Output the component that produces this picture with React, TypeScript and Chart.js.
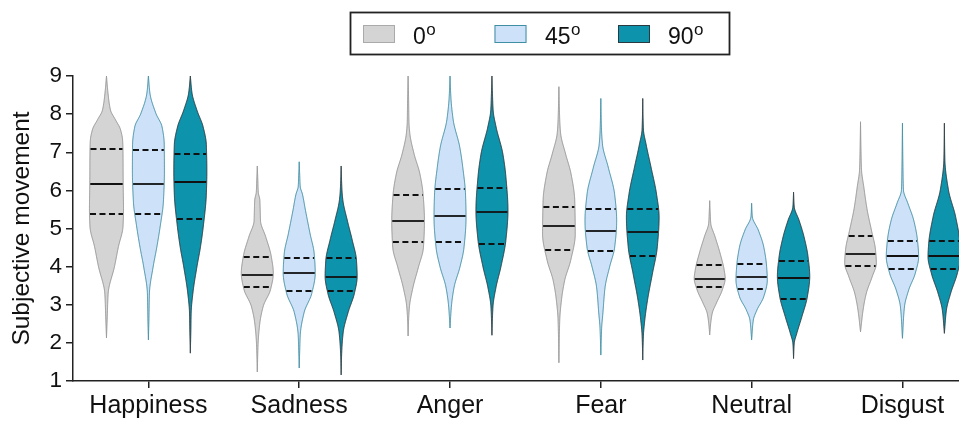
import React, { useEffect, useRef } from "react";
import { Chart, registerables } from "chart.js";

Chart.register(...registerables);

// ---------- DATA ----------
const categories = ["Happiness", "Sadness", "Anger", "Fear", "Neutral", "Disgust"];
const seriesLabels = ["0", "45", "90"];
const yTickValues = [1, 2, 3, 4, 5, 6, 7, 8, 9];

// [q1, median, q3] per category
const quartiles0 = [
  [5.37, 6.175, 7.09], [3.47, 3.78, 4.26], [4.65, 5.2, 5.88],
  [4.44, 5.07, 5.57], [3.46, 3.68, 4.03], [4.02, 4.33, 4.8],
];
const quartiles45 = [
  [5.39, 6.175, 7.05], [3.37, 3.84, 4.23], [4.65, 5.32, 6.03],
  [4.42, 4.94, 5.5], [3.41, 3.73, 4.08], [3.95, 4.28, 4.68],
];
const quartiles90 = [
  [5.24, 6.21, 6.95], [3.37, 3.73, 4.23], [4.59, 5.44, 6.05],
  [4.28, 4.9, 5.51], [3.15, 3.69, 4.15], [3.93, 4.28, 4.66],
];

// density profiles: [value, relative density] from min to max
const density0 = [
  [[2.13, 0], [2.6, 0.04], [3.3, 0.1], [4.0, 0.47], [4.52, 0.7], [5.05, 0.97], [5.5, 1.0], [6.2, 0.98], [7.0, 0.97], [7.3, 0.95], [7.6, 0.82], [7.85, 0.53], [8.1, 0.24], [8.55, 0.09], [9.0, 0]],
  [[1.24, 0], [2.0, 0.05], [2.52, 0.15], [2.96, 0.35], [3.4, 0.78], [3.83, 0.94], [4.27, 0.82], [4.79, 0.49], [5.2, 0.19], [5.5, 0.17], [5.75, 0.15], [5.95, 0.06], [6.3, 0.03], [6.64, 0]],
  [[2.18, 0], [2.6, 0.03], [2.95, 0.08], [3.46, 0.29], [3.99, 0.61], [4.5, 0.9], [5.2, 0.96], [5.9, 0.88], [6.44, 0.69], [6.96, 0.35], [7.5, 0.1], [7.8, 0.05], [8.4, 0.03], [9.0, 0]],
  [[1.48, 0], [2.6, 0.05], [3.12, 0.15], [3.64, 0.34], [4.16, 0.69], [4.86, 0.96], [5.73, 0.93], [6.44, 0.71], [6.96, 0.39], [7.5, 0.1], [7.84, 0.05], [8.72, 0]],
  [[2.21, 0], [2.52, 0.06], [2.78, 0.15], [3.04, 0.39], [3.39, 0.74], [3.69, 0.91], [3.91, 0.85], [4.35, 0.61], [4.79, 0.31], [5.14, 0.06], [5.4, 0.03], [5.73, 0]],
  [[2.29, 0], [2.86, 0.15], [3.3, 0.34], [3.74, 0.69], [4.09, 0.93], [4.44, 0.88], [4.96, 0.64], [5.49, 0.39], [6.1, 0.19], [6.53, 0.06], [7.0, 0.03], [7.8, 0]],
];
const density45 = [
  [[2.08, 0], [2.6, 0.03], [3.3, 0.06], [4.0, 0.28], [4.5, 0.49], [5.05, 0.69], [5.7, 0.88], [6.5, 0.94], [7.2, 0.93], [7.67, 0.8], [8.02, 0.44], [8.55, 0.09], [9.0, 0]],
  [[1.34, 0], [1.8, 0.03], [2.2, 0.06], [2.8, 0.29], [3.3, 0.74], [3.83, 0.94], [4.34, 0.88], [4.86, 0.64], [5.47, 0.37], [5.9, 0.19], [6.1, 0.06], [6.4, 0.03], [6.75, 0]],
  [[2.39, 0], [2.95, 0.08], [3.46, 0.24], [4.0, 0.59], [4.5, 0.82], [5.3, 0.94], [5.9, 0.91], [6.6, 0.75], [7.14, 0.57], [7.84, 0.19], [8.45, 0.05], [9.0, 0]],
  [[1.68, 0], [2.4, 0.05], [2.77, 0.12], [3.46, 0.25], [4.0, 0.52], [4.5, 0.81], [5.2, 0.93], [5.9, 0.81], [6.6, 0.44], [7.2, 0.1], [7.6, 0.04], [8.41, 0]],
  [[2.08, 0], [2.6, 0.1], [2.86, 0.31], [3.21, 0.71], [3.65, 0.92], [4.0, 0.88], [4.52, 0.71], [4.96, 0.39], [5.31, 0.04], [5.66, 0]],
  [[2.12, 0], [2.95, 0.12], [3.39, 0.37], [3.82, 0.75], [4.26, 0.95], [4.7, 0.88], [5.22, 0.66], [5.66, 0.32], [6.01, 0.06], [6.6, 0.03], [7.76, 0]],
];
const density90 = [
  [[1.73, 0], [2.3, 0.03], [2.8, 0.05], [3.3, 0.15], [4.0, 0.39], [4.5, 0.59], [5.05, 0.76], [5.9, 0.94], [6.5, 0.97], [7.2, 0.94], [7.67, 0.75], [8.1, 0.39], [8.55, 0.1], [9.0, 0]],
  [[1.16, 0], [1.7, 0.03], [2.27, 0.12], [2.8, 0.41], [3.3, 0.78], [3.74, 0.94], [4.17, 0.9], [4.7, 0.65], [5.2, 0.37], [5.75, 0.1], [6.0, 0.05], [6.64, 0]],
  [[2.2, 0], [2.95, 0.06], [3.46, 0.24], [4.0, 0.53], [4.7, 0.82], [5.47, 0.94], [6.35, 0.82], [6.96, 0.64], [7.67, 0.24], [8.1, 0.07], [8.55, 0.03], [9.0, 0]],
  [[1.55, 0], [2.2, 0.04], [2.6, 0.12], [3.12, 0.28], [3.82, 0.57], [4.5, 0.85], [5.3, 0.96], [5.9, 0.81], [6.6, 0.49], [7.2, 0.2], [7.6, 0.04], [8.41, 0]],
  [[1.59, 0], [1.99, 0.04], [2.25, 0.19], [2.69, 0.49], [3.21, 0.81], [3.74, 0.95], [4.26, 0.85], [4.79, 0.61], [5.22, 0.32], [5.57, 0.04], [5.95, 0]],
  [[2.25, 0], [2.86, 0.12], [3.3, 0.37], [3.82, 0.76], [4.26, 0.96], [4.61, 0.92], [5.31, 0.66], [6.01, 0.24], [6.8, 0.03], [7.76, 0]],
];

// ---------- STYLE ----------
const FONT = "'Liberation Sans', Arial, Helvetica, sans-serif";
const SERIES_OFFSET = [-0.278, 0, 0.278];
const HALF_WIDTH = 0.113; // x units for density 1
const FILLS = ["#d4d4d4", "#cde1f8", "#0e93ad"];
const STROKES = ["#959595", "#3f8ea3", "#2a3a40"];
const AXIS_COLOR = "#222";

const quartiles = [quartiles0, quartiles45, quartiles90];
const densities = [density0, density45, density90];

function monotone(knots: number[][]) {
  const xs = knots.map((k) => k[0]);
  const ys = knots.map((k) => k[1]);
  const n = xs.length;
  const d: number[] = [];
  for (let i = 0; i < n - 1; i++) d.push((ys[i + 1] - ys[i]) / (xs[i + 1] - xs[i]));
  const m: number[] = new Array(n).fill(0);
  m[0] = d[0];
  m[n - 1] = d[n - 2];
  for (let i = 1; i < n - 1; i++) {
    if (d[i - 1] * d[i] <= 0) m[i] = 0;
    else {
      const w1 = 2 * (xs[i + 1] - xs[i]) + (xs[i] - xs[i - 1]);
      const w2 = (xs[i + 1] - xs[i]) + 2 * (xs[i] - xs[i - 1]);
      m[i] = (w1 + w2) / (w1 / d[i - 1] + w2 / d[i]);
    }
  }
  return (x: number) => {
    if (x <= xs[0]) return ys[0];
    if (x >= xs[n - 1]) return ys[n - 1];
    let i = 0;
    while (i < n - 2 && x > xs[i + 1]) i++;
    const h = xs[i + 1] - xs[i];
    const t = (x - xs[i]) / h;
    const t2 = t * t, t3 = t2 * t;
    const v =
      (2 * t3 - 3 * t2 + 1) * ys[i] +
      (t3 - 2 * t2 + t) * h * m[i] +
      (-2 * t3 + 3 * t2) * ys[i + 1] +
      (t3 - t2) * h * m[i + 1];
    return Math.max(0, v);
  };
}

const violinPlugin = {
  id: "violins",
  afterDatasetsDraw(chart: any) {
    const ctx = chart.ctx as CanvasRenderingContext2D;
    const xs = chart.scales.x;
    const ys = chart.scales.y;
    ctx.save();
    for (let s = 0; s < 3; s++) {
      for (let c = 0; c < categories.length; c++) {
        const knots = densities[s][c];
        const f = monotone(knots);
        const center = c + SERIES_OFFSET[s];
        const vmin = knots[0][0];
        const vmax = knots[knots.length - 1][0];
        const steps = Math.ceil((vmax - vmin) / 0.02);
        const right: [number, number][] = [];
        const left: [number, number][] = [];
        for (let i = 0; i <= steps; i++) {
          const v = vmin + ((vmax - vmin) * i) / steps;
          const w = f(v) * HALF_WIDTH;
          const py = ys.getPixelForValue(v);
          right.push([xs.getPixelForValue(center + w), py]);
          left.push([xs.getPixelForValue(center - w), py]);
        }
        ctx.beginPath();
        right.forEach((p, i) => (i === 0 ? ctx.moveTo(p[0], p[1]) : ctx.lineTo(p[0], p[1])));
        for (let i = left.length - 1; i >= 0; i--) ctx.lineTo(left[i][0], left[i][1]);
        ctx.closePath();
        ctx.fillStyle = FILLS[s];
        ctx.fill();
        ctx.lineWidth = 1;
        ctx.strokeStyle = STROKES[s];
        ctx.lineJoin = "round";
        ctx.stroke();

        const [q1, med, q3] = quartiles[s][c];
        [q1, med, q3].forEach((q, k) => {
          const w = f(q) * HALF_WIDTH;
          const py = Math.round(ys.getPixelForValue(q));
          ctx.beginPath();
          ctx.setLineDash(k === 1 ? [] : [6, 3.5]);
          ctx.lineWidth = 1.8;
          ctx.strokeStyle = "#111";
          ctx.moveTo(xs.getPixelForValue(center - w) + 0.5, py);
          ctx.lineTo(xs.getPixelForValue(center + w) - 0.5, py);
          ctx.stroke();
        });
        ctx.setLineDash([]);
      }
    }
    ctx.restore();
  },
};

const legendPlugin = {
  id: "boxLegend",
  afterDraw(chart: any) {
    const ctx = chart.ctx as CanvasRenderingContext2D;
    ctx.save();
    ctx.lineWidth = 1.8;
    ctx.strokeStyle = AXIS_COLOR;
    ctx.strokeRect(350.5, 12.5, 379, 42);
    const swatchX = [363, 494.5, 618];
    const textX = [413, 545, 668];
    seriesLabels.forEach((lab, i) => {
      ctx.fillStyle = FILLS[i];
      ctx.fillRect(swatchX[i], 25, 32, 18);
      ctx.lineWidth = 1;
      ctx.strokeStyle = i === 0 ? "#aaaaaa" : STROKES[i];
      ctx.strokeRect(swatchX[i] + 0.5, 25.5, 31, 17);
      ctx.fillStyle = "#111";
      ctx.textBaseline = "alphabetic";
      ctx.textAlign = "left";
      ctx.font = `23px ${FONT}`;
      ctx.fillText(lab, textX[i], 43.5);
      const w = ctx.measureText(lab).width;
      ctx.font = `17px ${FONT}`;
      ctx.fillText("o", textX[i] + w + 0.5, 34.5);
    });
    ctx.restore();
  },
};

export default function App() {
  const ref = useRef<HTMLCanvasElement | null>(null);
  useEffect(() => {
    if (!ref.current) return;
    Chart.defaults.font.family = FONT;
    const chart = new Chart(ref.current, {
      type: "scatter",
      data: {
        datasets: seriesLabels.map((l, i) => ({
          label: l,
          data: [],
          backgroundColor: FILLS[i],
          borderColor: STROKES[i],
        })),
      },
      options: {
        animation: false,
        responsive: false,
        devicePixelRatio: 1,
        layout: { padding: { left: 0, right: 0, top: 76, bottom: 0 } },
        plugins: {
          legend: { display: false },
          tooltip: { enabled: false },
        },
        scales: {
          x: {
            type: "linear",
            min: -0.5,
            max: 5.375,
            afterBuildTicks: (scale: any) => {
              scale.ticks = categories.map((_, i) => ({ value: i }));
            },
            afterFit: (scale: any) => {
              scale.height = 40;
            },
            ticks: {
              callback: (v: any) => categories[Math.round(Number(v))] ?? "",
              font: { size: 25, family: FONT },
              color: "#111",
              padding: 3,
              maxRotation: 0,
              autoSkip: false,
            },
            grid: {
              drawOnChartArea: false,
              drawTicks: true,
              tickLength: 7,
              color: AXIS_COLOR,
              lineWidth: 1.5,
            },
            border: { color: AXIS_COLOR, width: 1.5 },
          },
          y: {
            type: "linear",
            min: 1,
            max: 9,
            afterBuildTicks: (scale: any) => {
              scale.ticks = yTickValues.map((v) => ({ value: v }));
            },
            afterFit: (scale: any) => {
              scale.width = 73;
            },
            ticks: {
              font: { size: 22.5, family: FONT },
              color: "#111",
              padding: 4,
            },
            grid: {
              drawOnChartArea: false,
              drawTicks: true,
              tickLength: 7,
              color: AXIS_COLOR,
              lineWidth: 1.5,
            },
            border: { color: AXIS_COLOR, width: 1.5 },
            title: {
              display: true,
              text: "Subjective movement",
              font: { size: 24.5, family: FONT, lineHeight: 1.2 },
              color: "#111",
              padding: { top: 8, bottom: 0 },
            },
          },
        },
      },
      plugins: [violinPlugin, legendPlugin],
    });
    return () => chart.destroy();
  }, []);
  return (
    <div style={{ position: "fixed", left: 0, top: 0, width: 959, height: 421, background: "#fff", overflow: "hidden" }}>
      <canvas ref={ref} width={959} height={421} style={{ display: "block" }} />
    </div>
  );
}
